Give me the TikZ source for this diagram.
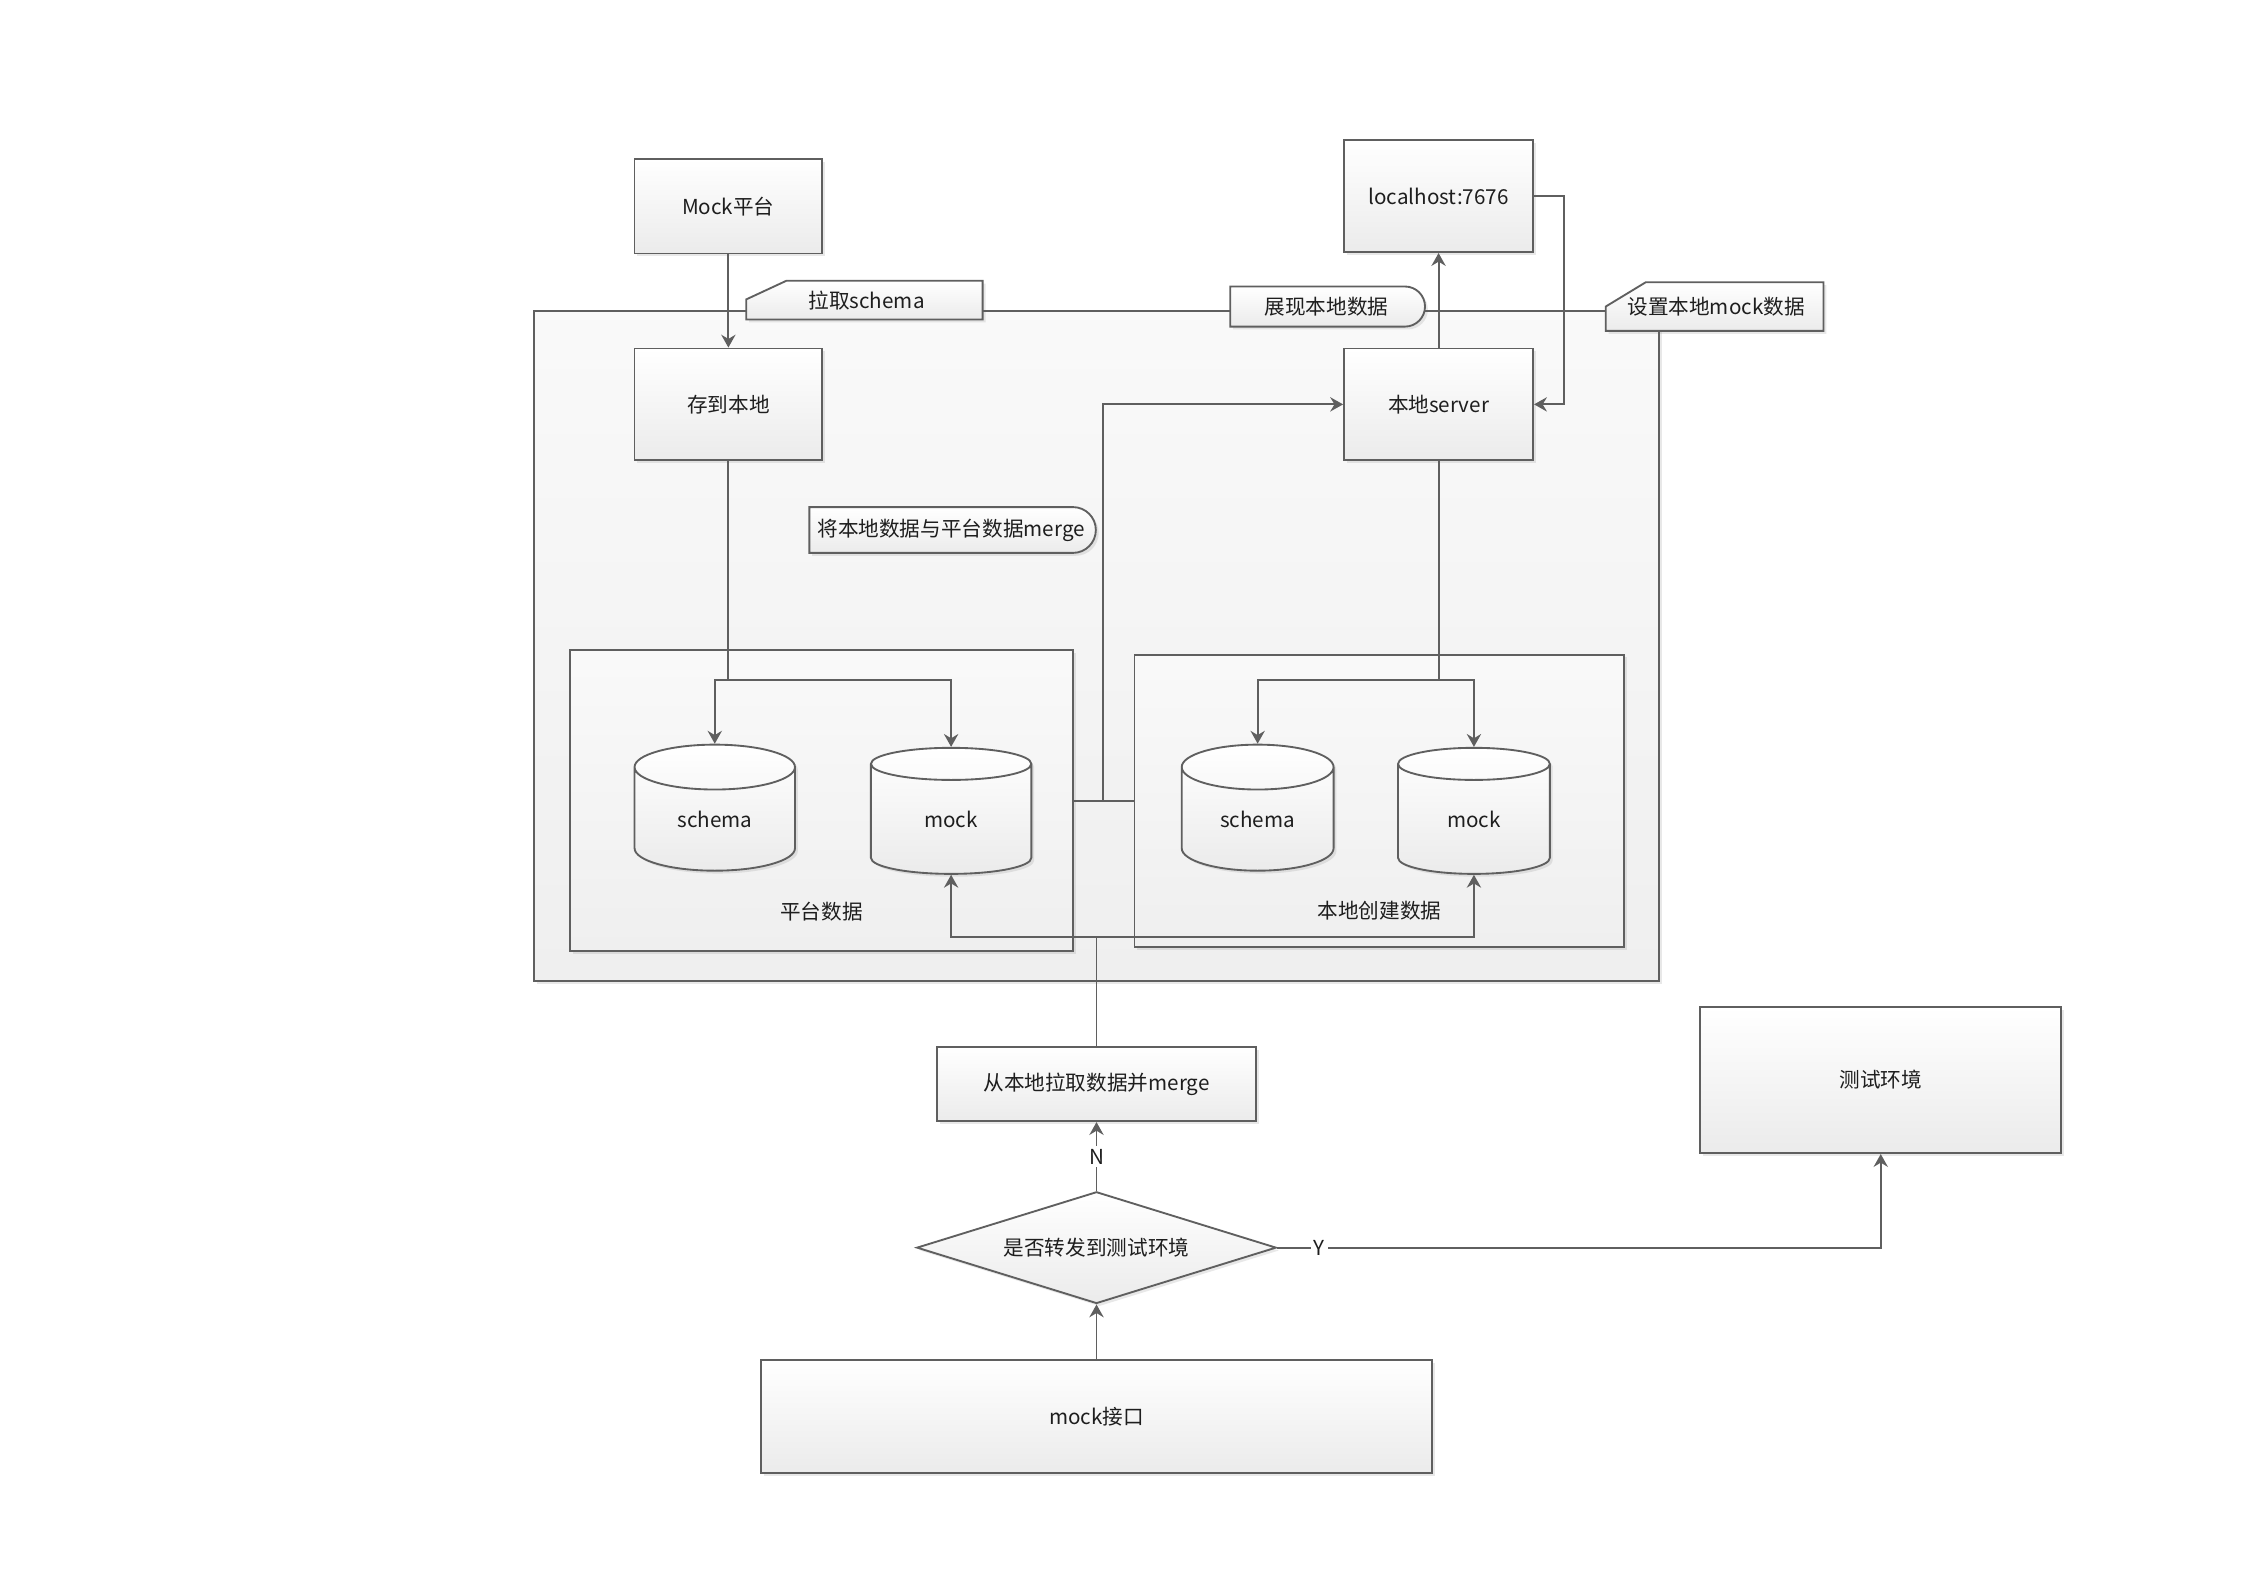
\documentclass[tikz,border=0pt]{standalone}
\usepackage{fontspec}
\setmainfont{Noto Sans CJK SC}
\usepackage{xcolor}
\usepackage{tikz}
\usetikzlibrary{positioning,arrows.meta,shapes.geometric,shapes.misc,shadows}
\definecolor{borde}{HTML}{5F5F5F}
\definecolor{relleno}{HTML}{EBEBEB}
\definecolor{fondo}{HTML}{EFEFEF}
\definecolor{tinta}{HTML}{1E1E1E}

\begin{document}
\begin{tikzpicture}[
  x=0.5pt, y=-0.5pt,
  letra/.style={font=\fontsize{7.2}{8.6}\selectfont, text=tinta},
  sombra/.style={drop shadow={shadow xshift=1pt, shadow yshift=-1pt, opacity=0.15, fill=black!60}},
  caja/.style={letra, draw=borde, line width=0.65pt, top color=white, bottom color=relleno, sombra, minimum width=65.5pt, minimum height=39pt, align=center, inner sep=1pt},
  marco/.style={draw=borde, line width=0.65pt, top color=fondo!35, bottom color=fondo, sombra, inner sep=0pt},
  base/.style={letra, cylinder, shape border rotate=90, aspect=0.6, draw=borde, line width=0.65pt, top color=white, bottom color=relleno, sombra, minimum width=56pt, minimum height=44pt, inner sep=0pt},
  rombo/.style={letra, diamond, aspect=3.2, draw=borde, line width=0.65pt, top color=white, bottom color=relleno, sombra, minimum width=125.5pt, minimum height=39pt, inner sep=0pt},
  tarjeta/.style={draw=borde, line width=0.65pt, top color=white, bottom color=relleno, sombra},
  nota/.style={letra, rounded rectangle, rounded rectangle left arc=none, draw=borde, line width=0.65pt, top color=white, bottom color=relleno, sombra, minimum height=14pt, inner sep=1pt},
  flecha/.style={-{Stealth[length=4.5pt, width=5pt, inset=1.5pt]}, line width=0.65pt, color=borde},
  linea/.style={line width=0.65pt, color=borde},
  clave/.style={letra, fill=white, inner sep=1pt}
]
\useasboundingbox (0,0) rectangle (1568,1109);

% contenedores
\node[marco, minimum width=392.5pt, minimum height=234pt] (marcolocal) at (765.5,451) {};
\node[marco, minimum width=175.5pt, minimum height=105pt] (gplat) at (573.5,559) {};
\node[marco, minimum width=171pt, minimum height=102pt] (gloc) at (963,559) {};
\node[letra] (tplat) at ([yshift=14pt]gplat.south) {平台数据};
\node[letra] (tloc) at ([yshift=13pt]gloc.south) {本地创建数据};

% cajas de arriba
\node[caja, minimum height=33pt] (mockpf) at (508.5,144) {Mock平台};
\node[caja, below=32.5pt of mockpf] (almacen) {存到本地};
\node[caja, right=181.5pt of almacen, minimum width=66pt] (server) {本地server};
\node[caja, above=33pt of server, minimum width=66pt] (localhost) {localhost:7676};

% bases de datos
\node[base] (schplat) at (499,572) {schema};
\node[base] (mockplat) at (664,572) {mock};
\node[base, minimum width=53pt] (schloc) at (878,572) {schema};
\node[base, minimum width=53pt] (mockloc) at (1029,572) {mock};

% notas
\draw[tarjeta] (521,223) -- (521,209) -- (549,196) -- (686,196) -- (686,223) -- cycle;
\node[letra] (tschema) at (605,209.5) {拉取schema};
\node[nota, minimum width=70pt] (tver) at (926,214) {展现本地数据};
\draw[tarjeta] (1121,231) -- (1121,214) -- (1149,197) -- (1273,197) -- (1273,231) -- cycle;
\node[letra] (tset) at (1198,214) {设置本地mock数据};
\node[nota, minimum width=102pt, minimum height=16pt] (tmerge) at (664,370) {将本地数据与平台数据merge};

% flujo de abajo
\node[rombo] (decide) at (765.5,871) {是否转发到测试环境};
\node[caja, above=24pt of decide, minimum width=111.5pt, minimum height=26pt] (pull) {从本地拉取数据并merge};
\node[caja, below=19pt of decide, minimum width=234pt, minimum height=39.5pt] (api) {mock接口};
\node[caja, minimum width=126pt, minimum height=51pt] (testenv) at (1313,754) {测试环境};

\coordinate (splitplat) at (almacen.south |- 0,475);
\coordinate (splitloc) at (server.south |- 0,475);
\coordinate (cruce) at (770,559);
\coordinate (retorno) at (pull.north |- 0,654);

\draw[flecha] (mockpf) -- (almacen);
\draw[linea] (almacen) -- (splitplat);
\draw[flecha] (splitplat) -| (schplat.north);
\draw[flecha] (splitplat) -| (mockplat.north);
\draw[linea] (server) -- (splitloc);
\draw[flecha] (splitloc) -| (schloc.north);
\draw[flecha] (splitloc) -| (mockloc.north);
\draw[linea] (gplat.east) -- (gloc.west);
\draw[flecha] (cruce) |- (server.west);
\draw[linea] (pull) -- (retorno);
\draw[flecha] (retorno) -| (mockplat.south);
\draw[flecha] (retorno) -| (mockloc.south);
\draw[flecha] (server) -- (localhost);
\draw[flecha] (localhost.east) -- ++(21,0) |- (server.east);
\draw[flecha] (decide) -- node[clave] {N} (pull);
\draw[flecha] (api) -- (decide);
\draw[flecha] (decide.east) -| node[clave, pos=0.035] {Y} (testenv.south);
\end{tikzpicture}
\end{document}
